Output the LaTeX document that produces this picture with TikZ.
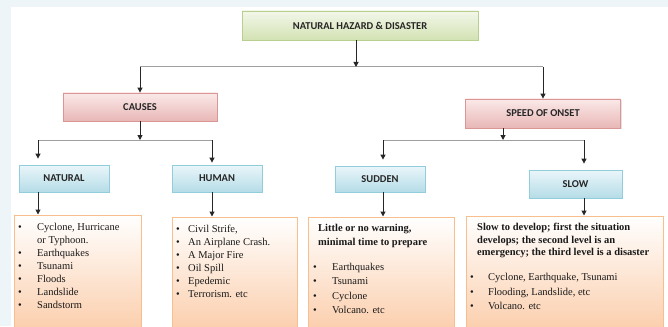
\documentclass[tikz,border=0pt]{standalone}
\usepackage{fontspec}
\setmainfont{Liberation Serif}
\newfontfamily\hdfont{Carlito}
\usetikzlibrary{arrows.meta,shadows}

\definecolor{hazTop}{HTML}{F3F7EA}
\definecolor{hazBot}{HTML}{D3E2B3}
\definecolor{hazLine}{HTML}{B8CF8E}
\definecolor{cauTop}{HTML}{FBE9E9}
\definecolor{cauBot}{HTML}{E8B7B6}
\definecolor{cauLine}{HTML}{DA9694}
\definecolor{kndTop}{HTML}{EAF6FA}
\definecolor{kndBot}{HTML}{B5DCE7}
\definecolor{kndLine}{HTML}{92CDDC}
\definecolor{lstBot}{HTML}{FBCDAA}
\definecolor{lstLine}{HTML}{F9BE8E}
\definecolor{pale}{HTML}{EEF5F9}

\newcommand{\lbul}[1]{\makebox[#1][l]{\textbullet}}

\begin{document}
\begin{tikzpicture}[x=1pt,y=-1pt,
    >={Triangle[length=5pt,width=5pt]},
    box/.style={draw, line width=0.8pt, inner sep=0pt, text=black!85,
        font=\hdfont\bfseries\fontsize{10.5}{12}\selectfont,
        drop shadow={opacity=0.22,shadow xshift=1pt,shadow yshift=-1.2pt}},
    hazbox/.style={box, draw=hazLine, top color=hazTop, bottom color=hazBot},
    caubox/.style={box, draw=cauLine, top color=cauTop, bottom color=cauBot},
    kndbox/.style={box, draw=kndLine, top color=kndTop, bottom color=kndBot},
    lstbox/.style={draw=lstLine, line width=1pt, top color=white, bottom color=lstBot,
        drop shadow={opacity=0.15,shadow xshift=1pt,shadow yshift=-1pt}},
    txt/.style={anchor=north west, inner sep=0pt, align=left, text=black!90},
    hline/.style={draw=gray!75, line width=1pt},
    arr/.style={->, draw=black!85, line width=1pt},
    gap/.style={shorten >=6pt}]
    \useasboundingbox (0,0) rectangle (668,326);
    \clip (0,0) rectangle (668,326);
    \fill[pale] (0,0) rectangle (668,326);
    \fill[white] (11,7) rectangle (668,326);

    % boxes
    \node[hazbox, minimum width=236pt, minimum height=29pt] (haz) at (360,25.5) {NATURAL HAZARD \& DISASTER};
    \node[caubox, minimum width=154pt, minimum height=28pt] (causes) at (140,107) {CAUSES};
    \node[caubox, minimum width=155pt, minimum height=29pt] (speed) at (543,113.5) {SPEED OF ONSET};
    \node[kndbox, minimum width=90pt, minimum height=27pt] (natural) at (64,178.5) {NATURAL};
    \node[kndbox, minimum width=90pt, minimum height=27pt] (human) at (217,178.5) {HUMAN};
    \node[kndbox, minimum width=90pt, minimum height=26pt] (sudden) at (380,179) {SUDDEN};
    \node[kndbox, minimum width=93pt, minimum height=28pt] (slow) at (575.5,184) {SLOW};

    \node[lstbox, minimum width=127pt, minimum height=118pt] (natlist) at (77.5,274) {};
    \node[lstbox, minimum width=125pt, minimum height=116pt] (humlist) at (234.5,275) {};
    \node[lstbox, minimum width=146pt, minimum height=116pt] (sudlist) at (381,275) {};
    \node[lstbox, minimum width=197pt, minimum height=117pt] (slowlist) at (564.5,274.5) {};

    % connectors
    \coordinate (top split) at (356,67);
    \coordinate (cau split) at (140,140);
    \coordinate (spd split) at (503,140);
    \coordinate (nat in) at (38,140);
    \coordinate (hum in) at (212,140);
    \coordinate (sud in) at (383,140);
    \coordinate (slw in) at (584,140);

    \draw[hline] (causes.north |- top split) -- (speed.north |- top split);
    \draw[arr] (top split |- haz.south) -- (top split);
    \draw[arr] (causes.north |- top split) -- (causes.north);
    \draw[arr] (speed.north |- top split) -- (speed.north);

    \draw[hline] (nat in) -- (hum in);
    \draw[arr] (causes.south) -- (cau split);
    \draw[arr, gap] (nat in) -- (nat in |- natural.north);
    \draw[arr, shorten >=2pt] (hum in) -- (hum in |- human.north);

    \draw[hline] (sud in) -- (slw in);
    \draw[arr] (spd split |- speed.south) -- (spd split);
    \draw[arr, gap] (sud in) -- (sud in |- sudden.north);
    \draw[arr, gap] (slw in) -- (slw in |- slow.north);

    \draw[arr] (nat in |- natural.south) -- (nat in |- natlist.north);
    \draw[arr] (hum in |- human.south) -- (hum in |- humlist.north);
    \draw[arr] (sud in |- sudden.south) -- (sud in |- sudlist.north);
    \draw[arr] (slw in |- slow.south) -- (slw in |- slowlist.north);

    % list texts
    \node[txt, font=\fontsize{10.5}{13}\selectfont] (natitems) at (18,222.7)
        {\lbul{19pt}Cyclone, Hurricane\\\hspace*{19pt}or Typhoon.\\\lbul{19pt}Earthquakes\\
         \lbul{19pt}Tsunami\\\lbul{19pt}Floods\\\lbul{19pt}Landslide\\\lbul{19pt}Sandstorm};
    \node[txt, font=\fontsize{10.5}{13}\selectfont] (humitems) at (176,224.7)
        {\lbul{12pt}Civil Strife,\\\lbul{12pt}An Airplane Crash.\\\lbul{12pt}A Major Fire\\
         \lbul{12pt}Oil Spill\\\lbul{12pt}Epedemic\\\lbul{12pt}Terrorism. etc};
    \node[txt, font=\bfseries\fontsize{10.5}{14}\selectfont] (sudhead) at (318,224.1)
        {Little or no warning,\\minimal time to prepare};
    \node[txt, font=\fontsize{10.5}{14.3}\selectfont] (suditems) at (313,263.1)
        {\lbul{19pt}Earthquakes\\\lbul{19pt}Tsunami\\\lbul{19pt}Cyclone\\\lbul{19pt}Volcano. etc};
    \node[txt, font=\bfseries\fontsize{10.5}{12.5}\selectfont] (slowhead) at (477,223.1)
        {Slow to develop; first the situation\\develops; the second level is an\\
         emergency; the third level is a disaster};
    \node[txt, font=\fontsize{10.5}{14.5}\selectfont] (slowitems) at (470,273.1)
        {\lbul{18pt}Cyclone, Earthquake, Tsunami\\\lbul{18pt}Flooding, Landslide, etc\\
         \lbul{18pt}Volcano. etc};
\end{tikzpicture}
\end{document}
